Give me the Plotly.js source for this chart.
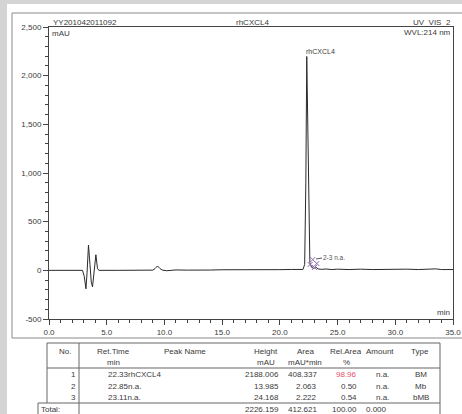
<!DOCTYPE html>
<html><head><meta charset="utf-8">
<script src="https://cdn.plot.ly/plotly-3.0.1.min.js"></script>
<style>html,body{margin:0;padding:0;background:#fff;}#chart{width:462px;height:414px;}</style>
</head><body><div id="chart"></div>
<script>
// ---- header texts ----
const sampleName = 'YY201042011092';
const chartTitle = 'rhCXCL4';
const channel = 'UV_VIS_2';
const wavelength = 'WVL:214 nm';
const yUnit = 'mAU';
const xUnit = 'min';

// ---- chromatogram trace ----
const timeMin = [0, 1.5, 2.9, 3.05, 3.2, 3.3, 3.42, 3.55, 3.66, 3.77, 3.9, 4.06, 4.2, 4.32, 6, 8, 9.0, 9.2, 9.4, 9.6, 9.8, 10.2, 11, 12, 13, 14, 15, 16, 17, 18, 19, 20, 21, 22.0, 22.15, 22.25, 22.33, 22.42, 22.5, 22.6, 22.75, 22.85, 22.95, 23.11, 23.3, 23.6, 24.0, 24.5, 25, 26, 27, 28, 29, 30, 31, 32, 33, 33.5, 34, 35];
const signalMAU = [0, 0, 0, -60, -190, -20, 260, 60, -120, -170, 20, 160, 20, 0, 0, 0, 2, 20, 45, 20, 3, -4, 4, 2, 6, 3, 6, 5, 8, 6, 9, 7, 9, 9, 60, 900, 2197, 1400, 400, 80, 30, 24, 20, 34, 15, 10, 14, 8, 12, 8, 12, 8, 11, 9, 12, 8, 10, 15, 8, 8];

// ---- peak delimiters (purple marks) ----
const delimTime = [22.62, 22.85, 23.0, 23.2];
const delimVal = [60, 110, 30, 70];

// ---- axis ticks ----
const xTickVals = [0, 5, 10, 15, 20, 25, 30, 35];
const xTickText = ['0.0', '5.0', '10.0', '15.0', '20.0', '25.0', '30.0', '35.0'];
const yTickVals = [-500, 0, 500, 1000, 1500, 2000, 2500];
const yTickText = ['-500', '0', '500', '1,000', '1,500', '2,000', '2,500'];

// ---- peak table ----
const tableHeader1 = ['No.', 'Ret.Time', 'Peak Name', 'Height', 'Area', 'Rel.Area', 'Amount', 'Type'];
const tableHeader2 = ['', 'min', '', 'mAU', 'mAU*min', '%', '', ''];
const peakNo = [1, 2, 3];
const peakRetTime = ['22.33', '22.85', '23.11'];
const peakName = ['rhCXCL4', 'n.a.', 'n.a.'];
const peakHeight = ['2188.006', '13.985', '24.168'];
const peakArea = ['408.337', '2.063', '2.222'];
const peakRelArea = ['98.96', '0.50', '0.54'];
const peakAmount = ['n.a.', 'n.a.', 'n.a.'];
const peakType = ['BM', 'Mb', 'bMB'];
const totalLabel = 'Total:';
const totalHeight = '2226.159';
const totalArea = '412.621';
const totalRelArea = '100.00';
const totalAmount = '0.000';

// ---- pixel -> paper helpers (plot area x 49..453, y 27..319) ----
const PL = 49, PR = 453, PT = 27, PB = 319;
const X = px => (px - PL) / (PR - PL);
const Y = py => (PB - py) / (PB - PT);
const FONT = 'Liberation Sans, Arial, sans-serif';
const TXT = '#3a3a3a';

const annotations = [];
function ann(text, px, py, xanchor, opt) {
  opt = opt || {};
  annotations.push({
    text: text, xref: 'paper', yref: 'paper', x: X(px), y: Y(py),
    xanchor: xanchor || 'left', yanchor: 'middle', showarrow: false, borderpad: 0,
    font: {family: FONT, size: opt.size || 8, color: opt.color || TXT}
  });
}
const shapes = [];
function line(x0, y0, x1, y1, color, w) {
  shapes.push({type: 'line', xref: 'paper', yref: 'paper', x0: X(x0), y0: Y(y0), x1: X(x1), y1: Y(y1),
    line: {color: color || '#777', width: w || 1}});
}
function rect(x0, y0, x1, y1, fill) {
  shapes.push({type: 'rect', xref: 'paper', yref: 'paper', x0: X(x0), y0: Y(y0), x1: X(x1), y1: Y(y1),
    line: {width: 0}, fillcolor: fill, layer: 'below'});
}

// frame / background
rect(0, 0, 462, 4, '#d4d4d4');
rect(0, 0, 7, 414, '#d4d4d4');
line(12, 13, 462, 13, '#8a8a8a');
line(12, 13, 12, 338, '#8a8a8a');
line(12, 338, 462, 338, '#8a8a8a');

// header texts
ann(sampleName, 52, 22, 'left');
ann(chartTitle, 252, 22, 'center');
ann(channel, 452, 22, 'right');
ann(wavelength, 452, 33, 'right');
ann(yUnit, 51, 34, 'left');
ann(xUnit, 451, 312, 'right');

// small peak labels (peaks 2 and 3 share one crowded label, as in picture)
ann('2-3 ' + peakName[1], 322, 257, 'left', {size: 6.5, color: '#555'});
line(316, 259, 322, 258, '#555');

// table geometry
const colHeadX = [65, 113, 185, 266, 305, 346, 380, 420];
const rowY = [375, 386, 397];
line(47, 343, 440, 343, '#666');
line(47, 343, 47, 403, '#666');
line(440, 343, 440, 414, '#666');
line(47, 368, 440, 368, '#666');
line(38, 403, 440, 403, '#666');
line(38, 403, 38, 414, '#666');
line(79, 343, 79, 414, '#666');

tableHeader1.forEach((t, i) => ann(t, colHeadX[i], 352, 'center'));
tableHeader2.forEach((t, i) => { if (t) ann(t, colHeadX[i], 362, 'center'); });
peakNo.forEach((n, i) => {
  const y = rowY[i];
  ann(String(n), 77, y, 'right');
  ann(peakRetTime[i] + peakName[i], 107, y, 'left');
  ann(peakHeight[i], 280, y, 'right');
  ann(peakArea[i], 318, y, 'right');
  ann(peakRelArea[i], 358, y, 'right', i === 0 ? {color: '#e0506a'} : {});
  ann(peakAmount[i], 390, y, 'right');
  ann(peakType[i], 421, y, 'center');
});
ann(totalLabel, 40, 409, 'left');
ann(totalHeight, 280, 409, 'right');
ann(totalArea, 318, 409, 'right');
ann(totalRelArea, 358, 409, 'right');
ann(totalAmount, 388, 409, 'right');

// main peak label in data coordinates
annotations.push({
  text: peakName[0], x: parseFloat(peakRetTime[0]), y: Math.max(...signalMAU),
  xref: 'x', yref: 'y', xanchor: 'left', yanchor: 'bottom', showarrow: false, xshift: -2, yshift: 0, borderpad: 0,
  font: {family: FONT, size: 7, color: TXT}
});

const traces = [
  {x: timeMin, y: signalMAU, type: 'scatter', mode: 'lines', line: {color: '#2a2a2a', width: 1}, hoverinfo: 'skip'},
  {x: delimTime, y: delimVal, type: 'scatter', mode: 'markers',
   marker: {symbol: 'x-thin-open', size: 5, color: '#8a6ab0', line: {width: 1, color: '#8a6ab0'}}, hoverinfo: 'skip'}
];

const axisCommon = {
  showline: true, linecolor: '#444', linewidth: 1, mirror: true, showgrid: false, zeroline: false,
  ticks: 'outside', ticklen: 5, tickcolor: '#444', tickwidth: 1,
  tickfont: {family: FONT, size: 8, color: TXT}
};
const layout = {
  width: 462, height: 414,
  margin: {l: PL, r: 462 - PR, t: PT, b: 414 - PB, pad: 0},
  paper_bgcolor: '#ffffff', plot_bgcolor: '#ffffff',
  showlegend: false,
  xaxis: Object.assign({}, axisCommon, {range: [0, 35], tickmode: 'array', tickvals: xTickVals, ticktext: xTickText,
    minor: {tickmode: 'linear', tick0: 0, dtick: 1, ticks: 'outside', ticklen: 3, tickcolor: '#444', showgrid: false}}),
  yaxis: Object.assign({}, axisCommon, {range: [-500, 2500], tickmode: 'array', tickvals: yTickVals, ticktext: yTickText,
    minor: {tickmode: 'linear', tick0: 0, dtick: 100, ticks: 'outside', ticklen: 3, tickcolor: '#444', showgrid: false}}),
  shapes: shapes,
  annotations: annotations
};
Plotly.newPlot('chart', traces, layout, {staticPlot: true, displayModeBar: false});
</script>
</body></html>
